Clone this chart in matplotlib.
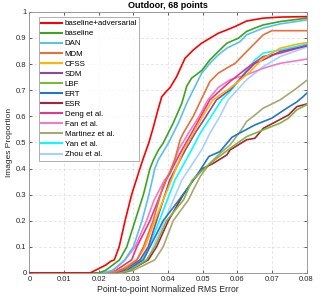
import matplotlib
matplotlib.use("Agg")
import matplotlib.pyplot as plt

plt.rcParams['font.family'] = ['Liberation Sans', 'DejaVu Sans']

names = ["baseline+adversarial", "baseline", "DAN", "MDM", "CFSS", "SDM", "LBF",
         "ERT", "ESR", "Deng et al.", "Fan et al.", "Martinez et al.", "Yan et al.", "Zhou et al."]
colors = ["#FF0000", "#3AA51E", "#5BC0F0", "#E8703A", "#FFB400", "#8E44AD", "#7CB83A",
          "#1E78C8", "#B01E3C", "#E8338A", "#F07CC8", "#A8A870", "#00FFFF", "#A8D0FF"]

adv_x = [0, 0.0175, 0.019, 0.0205, 0.022, 0.0235, 0.0245, 0.0259, 0.0276, 0.0295, 0.0319, 0.0329,
         0.0345, 0.0358, 0.037, 0.0382, 0.0395, 0.0406, 0.0425, 0.0449, 0.0473, 0.0497, 0.0521,
         0.0545, 0.057, 0.0594, 0.0627, 0.0675, 0.0724, 0.08]
adv_y = [0, 0, 0.01, 0.02, 0.03, 0.045, 0.05, 0.1, 0.2, 0.3, 0.4, 0.44, 0.5, 0.56, 0.62, 0.675,
         0.695, 0.71, 0.752, 0.822, 0.854, 0.88, 0.899, 0.918, 0.931, 0.944, 0.965, 0.976, 0.98, 0.982]

base_x = [0, 0.02, 0.022, 0.024, 0.026, 0.0281, 0.0305, 0.0329, 0.0348, 0.0358, 0.0372, 0.0386,
          0.0415, 0.044, 0.0454, 0.0468, 0.0497, 0.0521, 0.0545, 0.057, 0.0603, 0.0627, 0.0651,
          0.0675, 0.0724, 0.08]
base_y = [0, 0, 0.01, 0.03, 0.05, 0.1, 0.2, 0.3, 0.4, 0.433, 0.47, 0.497, 0.574, 0.65, 0.715,
          0.746, 0.775, 0.816, 0.848, 0.88, 0.899, 0.925, 0.938, 0.95, 0.963, 0.976]

dan_x = [0, 0.021, 0.024, 0.026, 0.0275, 0.030, 0.0325, 0.0345, 0.0362, 0.0372, 0.0401, 0.043,
         0.0454, 0.0478, 0.0497, 0.0521, 0.0545, 0.057, 0.0608, 0.0627, 0.0675, 0.0724, 0.08]
dan_y = [0, 0, 0.01, 0.03, 0.05, 0.1, 0.2, 0.3, 0.4, 0.433, 0.497, 0.574, 0.65, 0.714, 0.765,
         0.803, 0.835, 0.861, 0.886, 0.912, 0.938, 0.954, 0.969]

mdm_x = [0, 0.024, 0.026, 0.028, 0.031, 0.0329, 0.0357, 0.0385, 0.0406, 0.042, 0.0435, 0.0444,
         0.0473, 0.0493, 0.0521, 0.0545, 0.057, 0.0594, 0.0608, 0.0627, 0.0651, 0.0675, 0.07, 0.08]
mdm_y = [0, 0, 0.01, 0.02, 0.05, 0.1, 0.2, 0.33, 0.39, 0.436, 0.51, 0.535, 0.6, 0.656, 0.733,
         0.765, 0.785, 0.803, 0.822, 0.848, 0.88, 0.912, 0.928, 0.928]

cfss_x = [0, 0.0235, 0.026, 0.031, 0.0334, 0.0362, 0.041, 0.0445, 0.0473, 0.050, 0.053, 0.0579,
          0.0603, 0.0627, 0.0651, 0.0675, 0.0724, 0.0772, 0.08]
cfss_y = [0, 0, 0.01, 0.05, 0.1, 0.2, 0.356, 0.471, 0.535, 0.6, 0.663, 0.708, 0.733, 0.759,
          0.79, 0.822, 0.861, 0.876, 0.882]

sdm_x = [0, 0.024, 0.027, 0.0319, 0.0343, 0.0367, 0.0405, 0.045, 0.0478, 0.051, 0.054, 0.0579,
         0.0627, 0.0651, 0.0675, 0.0724, 0.08]
sdm_y = [0, 0, 0.01, 0.05, 0.1, 0.2, 0.356, 0.471, 0.535, 0.6, 0.663, 0.701, 0.771, 0.803,
         0.816, 0.848, 0.87]

lbf_x = [0, 0.026, 0.029, 0.0338, 0.0362, 0.0396, 0.0445, 0.047, 0.052, 0.0579, 0.0627, 0.0675,
         0.0724, 0.0748, 0.0772, 0.08]
lbf_y = [0, 0, 0.01, 0.05, 0.1, 0.2, 0.28, 0.356, 0.418, 0.477, 0.522, 0.548, 0.574, 0.593,
         0.625, 0.644]

ert_x = [0, 0.025, 0.028, 0.0329, 0.0348, 0.0386, 0.0432, 0.046, 0.049, 0.0518, 0.055, 0.0585,
         0.0651, 0.07, 0.0743, 0.0772, 0.079, 0.08]
ert_y = [0, 0, 0.01, 0.05, 0.1, 0.2, 0.28, 0.331, 0.388, 0.446, 0.465, 0.52, 0.567, 0.593,
         0.631, 0.655, 0.675, 0.688]

esr_x = [0, 0.026, 0.029, 0.0343, 0.0367, 0.0401, 0.0444, 0.0473, 0.0502, 0.0531, 0.057, 0.0579,
         0.0627, 0.0651, 0.0675, 0.0704, 0.0748, 0.0772, 0.08]
esr_y = [0, 0, 0.01, 0.05, 0.1, 0.2, 0.299, 0.356, 0.401, 0.42, 0.452, 0.471, 0.51, 0.516,
         0.554, 0.574, 0.605, 0.637, 0.647]

deng_x = [0, 0.023, 0.025, 0.0295, 0.031, 0.0348, 0.0395, 0.044, 0.0468, 0.0495, 0.0521, 0.0579,
          0.0627, 0.0675, 0.0724, 0.08]
deng_y = [0, 0, 0.01, 0.05, 0.1, 0.2, 0.356, 0.471, 0.535, 0.6, 0.663, 0.733, 0.784, 0.829,
          0.842, 0.87]

fan_x = [0, 0.0225, 0.024, 0.0276, 0.0305, 0.0338, 0.036, 0.039, 0.0406, 0.043, 0.0459, 0.049,
         0.0515, 0.0545, 0.0579, 0.0627, 0.0675, 0.0724, 0.08]
fan_y = [0, 0, 0.01, 0.05, 0.1, 0.2, 0.28, 0.356, 0.38, 0.471, 0.535, 0.6, 0.663, 0.71, 0.74,
         0.759, 0.784, 0.803, 0.819]

mart_x = [0, 0.027, 0.03, 0.0362, 0.0386, 0.0415, 0.0459, 0.0473, 0.0493, 0.0521, 0.055, 0.0579,
          0.0608, 0.0627, 0.0651, 0.0675, 0.0724, 0.0772, 0.08]
mart_y = [0, 0, 0.01, 0.05, 0.1, 0.2, 0.28, 0.318, 0.369, 0.42, 0.458, 0.49, 0.541, 0.58, 0.605,
          0.631, 0.663, 0.708, 0.737]

yan_x = [0, 0.024, 0.027, 0.0324, 0.0345, 0.0375, 0.042, 0.0468, 0.0493, 0.0525, 0.0555, 0.0579,
         0.0603, 0.0627, 0.0651, 0.0675, 0.0724, 0.08]
yan_y = [0, 0, 0.01, 0.05, 0.1, 0.2, 0.356, 0.471, 0.535, 0.6, 0.663, 0.695, 0.733, 0.778,
         0.816, 0.842, 0.854, 0.876]

zhou_x = [0, 0.025, 0.028, 0.0343, 0.0357, 0.039, 0.044, 0.0497, 0.0521, 0.055, 0.0574, 0.0627,
          0.0675, 0.0724, 0.08]
zhou_y = [0, 0, 0.01, 0.05, 0.1, 0.2, 0.356, 0.471, 0.535, 0.6, 0.663, 0.74, 0.79, 0.829, 0.865]

series = [(adv_x, adv_y), (base_x, base_y), (dan_x, dan_y), (mdm_x, mdm_y), (cfss_x, cfss_y),
          (sdm_x, sdm_y), (lbf_x, lbf_y), (ert_x, ert_y), (esr_x, esr_y), (deng_x, deng_y),
          (fan_x, fan_y), (mart_x, mart_y), (yan_x, yan_y), (zhou_x, zhou_y)]

xticks = [0, 0.01, 0.02, 0.03, 0.04, 0.05, 0.06, 0.07, 0.08]
xticklabels = ["0", "0.01", "0.02", "0.03", "0.04", "0.05", "0.06", "0.07", "0.08"]
yticks = [0, 0.1, 0.2, 0.3, 0.4, 0.5, 0.6, 0.7, 0.8, 0.9, 1.0]
yticklabels = ["0", "0.1", "0.2", "0.3", "0.4", "0.5", "0.6", "0.7", "0.8", "0.9", "1"]

fig = plt.figure(figsize=(3.24, 2.97), dpi=100)
ax = fig.add_axes([0.091, 0.081, 0.855, 0.879])

n = len(series)
for i, ((xs, ys), name, c) in enumerate(zip(series, names, colors)):
    ax.plot(xs, ys, color=c, lw=1.2, label=name, zorder=3 + (n - i) * 0.01)

ax.set_xlim(0, 0.08)
ax.set_ylim(0, 1)
ax.set_xticks(xticks)
ax.set_xticklabels(xticklabels)
ax.set_yticks(yticks)
ax.set_yticklabels(yticklabels)
ax.tick_params(direction='in', length=2.5, width=0.5, labelsize=5.5, colors='#262626',
               top=True, right=True, pad=2)
ax.grid(True, ls=(0, (4, 3)), color='#DCDCDC', lw=0.5)
for s in ax.spines.values():
    s.set_color('#8C8C8C')
    s.set_linewidth(0.6)

ax.set_title("Outdoor, 68 points", fontsize=6.5, fontweight='bold', pad=3)
ax.set_xlabel("Point-to-point Normalized RMS Error", fontsize=6.2, labelpad=2, color='#262626')
ax.set_ylabel("Images Proportion", fontsize=6.0, labelpad=2, color='#262626')

leg = ax.legend(loc='upper left', bbox_to_anchor=(0.027, 0.985), fontsize=5.7, frameon=True,
                fancybox=False, edgecolor='#8C8C8C', handlelength=2.6, handletextpad=0.4,
                labelspacing=0.32, borderpad=0.3, borderaxespad=0.2)
leg.get_frame().set_linewidth(0.6)
for line in leg.get_lines():
    line.set_linewidth(1.5)

fig.savefig("out.png", dpi=100)
